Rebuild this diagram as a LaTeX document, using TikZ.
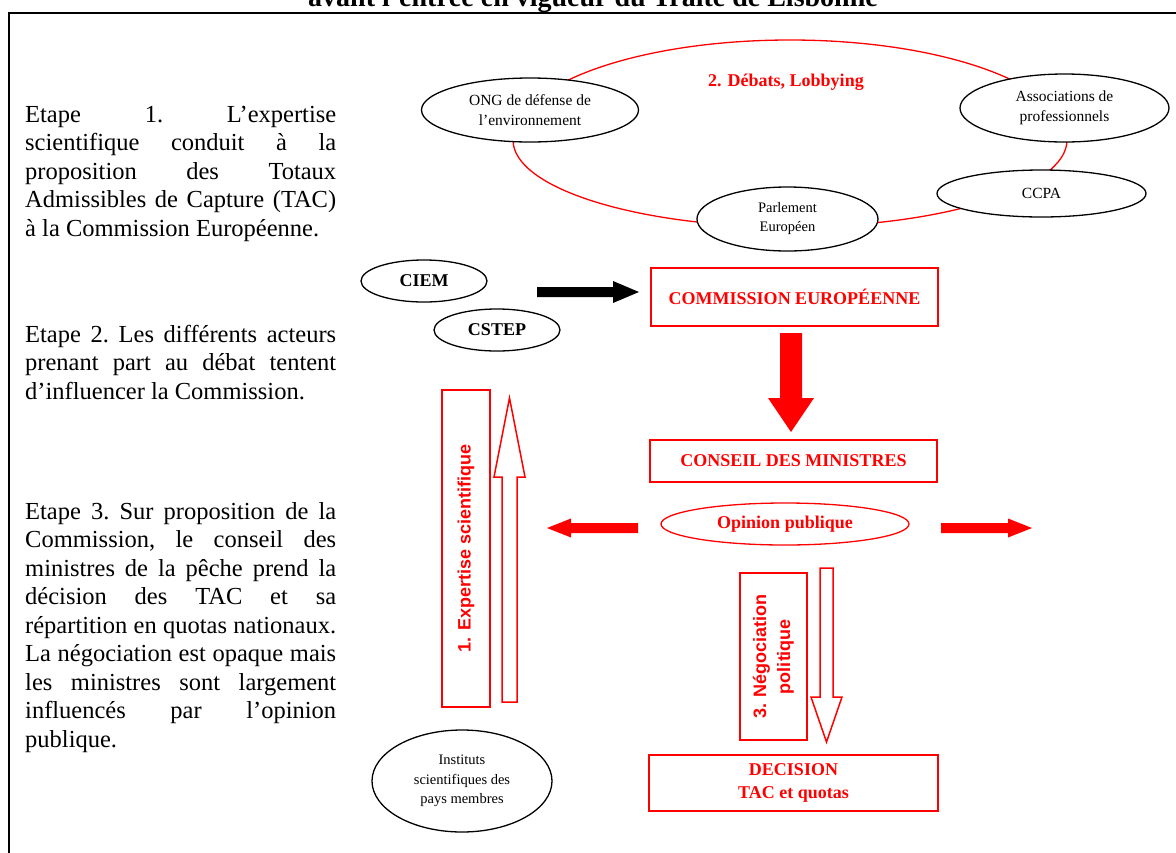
\documentclass[tikz,border=0pt]{standalone}
\usepackage{fontspec}
\setmainfont{Liberation Serif}
\newfontfamily\sansf{Liberation Sans}
\usetikzlibrary{shapes.geometric}
\definecolor{rd}{RGB}{255,0,0}
\newlength\tw \setlength\tw{311pt}
\newcommand\jl[1]{\hbox to \tw{\strut #1}}
\newcommand\lastl[1]{\hbox{\strut #1}}
\newcommand\stepblock[1]{\vbox{\hsize=\tw\frenchspacing #1}}
\begin{document}
\begin{tikzpicture}[x=1pt,y=1pt,
  bub/.style={ellipse, draw=black, line width=1.3pt, fill=white, inner sep=0pt, align=center},
  bubtxt/.style={font=\fontsize{15.5}{20}\selectfont},
  rbox/.style={rectangle, draw=rd, line width=1.3pt, inner sep=0pt, text=rd, align=center,
     font=\fontsize{18}{22}\selectfont\bfseries},
  rsans/.style={font=\sansf\bfseries\fontsize{18}{24}\selectfont},
  stepnote/.style={anchor=north west, inner sep=0pt,
     font=\fontsize{24.5}{28.5}\selectfont},
  hollow/.style={draw=rd, line width=1.5pt, fill=white},
  solidred/.style={fill=rd},
]
\useasboundingbox (0,0) rectangle (1176,-852);
\clip (0,0) rectangle (1176,-852);

% title (cut at the top) and frame
\node[anchor=base, inner sep=0pt, font=\fontsize{28}{30}\selectfont\bfseries] (title) at (593,-6)
  {avant l’entrée en vigueur du Traité de Lisbonne};
\draw[line width=2.5pt] (9,-860) -- (9,-13) -- (1180,-13);

% left column texts
\node[stepnote] (e1) at (25,-102) {\stepblock{%
  \jl{Etape 1. L’expertise}%
  \jl{scientifique conduit à la}%
  \jl{proposition des Totaux}%
  \jl{Admissibles de Capture (TAC)}%
  \lastl{à la Commission Européenne.}}};
\node[stepnote] (e2) at (25,-322) {\stepblock{%
  \jl{Etape 2. Les différents acteurs}%
  \jl{prenant part au débat tentent}%
  \lastl{d’influencer la Commission.}}};
\node[stepnote] (e3) at (25,-499) {\stepblock{%
  \jl{Etape 3. Sur proposition de la}%
  \jl{Commission, le conseil des}%
  \jl{ministres de la pêche prend la}%
  \jl{décision des TAC et sa}%
  \jl{répartition en quotas nationaux.}%
  \jl{La négociation est opaque mais}%
  \jl{les ministres sont largement}%
  \jl{influencés par l’opinion}%
  \lastl{publique.}}};

% debate ring
\draw[rd, line width=1.3pt] (513,-140)
  arc[start angle=180, end angle=0, x radius=277, y radius=100]
  arc[start angle=0, end angle=-180, x radius=277, y radius=87];
\node[text=rd, font=\fontsize{18}{22}\selectfont\bfseries] (debats) at (786,-82) {2. Débats, Lobbying};

\node[bub, bubtxt, minimum width=217, minimum height=64] (ong) at (530,-110)
  {ONG de défense de\\l’environnement};
\node[bub, bubtxt, minimum width=209, minimum height=68] (assoc) at (1064.5,-108)
  {Associations de\\professionnels};
\node[bub, bubtxt, minimum width=209, minimum height=47] (ccpa) at (1041.5,-193.5) {CCPA};
\node[bub, font=\fontsize{14.5}{19}\selectfont, minimum width=181, minimum height=64] (parl) at (787.5,-219)
  {Parlement\\Européen};

% scientific bodies
\node[bub, font=\fontsize{18}{22}\selectfont\bfseries, minimum width=126, minimum height=42] (ciem) at (424,-281) {CIEM};
\node[bub, font=\fontsize{18}{22}\selectfont\bfseries, minimum width=126, minimum height=42] (cstep) at (497,-330) {CSTEP};
\node[bub, font=\fontsize{14.5}{19.5}\selectfont, minimum width=180, minimum height=102] (inst) at (462,-781)
  {Instituts\\scientifiques des\\pays membres};

% institutional boxes
\node[rbox, minimum width=287, minimum height=58] (comm) at (794.5,-297) {COMMISSION EUROPÉENNE};
\node[rbox, minimum width=287, minimum height=42] (cons) at (793.5,-461) {CONSEIL DES MINISTRES};
\node[rbox, minimum width=289, minimum height=56, font=\fontsize{18}{23}\selectfont\bfseries] (dec) at (793.5,-783)
  {DECISION\\TAC et quotas};
\node[ellipse, draw=rd, line width=1.3pt, inner sep=0pt, minimum width=248, minimum height=42,
  text=rd, font=\fontsize{18}{22}\selectfont\bfseries] (opin) at (785,-524) {Opinion publique};

% rotated label boxes
\node[rbox, rsans, rotate=90, minimum width=317, minimum height=48] (expbox) at (466,-548.5)
  {1. Expertise scientifique};
\node[rbox, rsans, rotate=90, minimum width=167, minimum height=67] (negbox) at (773.5,-656.5)
  {3. Négociation\\politique};

% block arrows
\fill (537,-287) -- (613,-287) -- (613,-281) -- (639,-292) -- (613,-303) -- (613,-297) -- (537,-297) -- cycle;
\fill[solidred] (780,-333) -- (802,-333) -- (802,-398) -- (814,-398) -- (791,-432) -- (768,-398) -- (780,-398) -- cycle;
\fill[solidred] (638,-523) -- (571,-523) -- (571,-518.5) -- (547,-528) -- (571,-537.5) -- (571,-533) -- (638,-533) -- cycle;
\fill[solidred] (941,-523) -- (1008,-523) -- (1008,-518.5) -- (1032,-528) -- (1008,-537.5) -- (1008,-533) -- (941,-533) -- cycle;
\draw[hollow] (502,-702) -- (502,-477) -- (494,-477) -- (509.5,-398) -- (525,-477) -- (517,-477) -- (517,-702) -- cycle;
\draw[hollow] (820,-568) -- (820,-697) -- (811,-697) -- (826.5,-742) -- (842,-697) -- (833,-697) -- (833,-568) -- cycle;
\end{tikzpicture}
\end{document}
